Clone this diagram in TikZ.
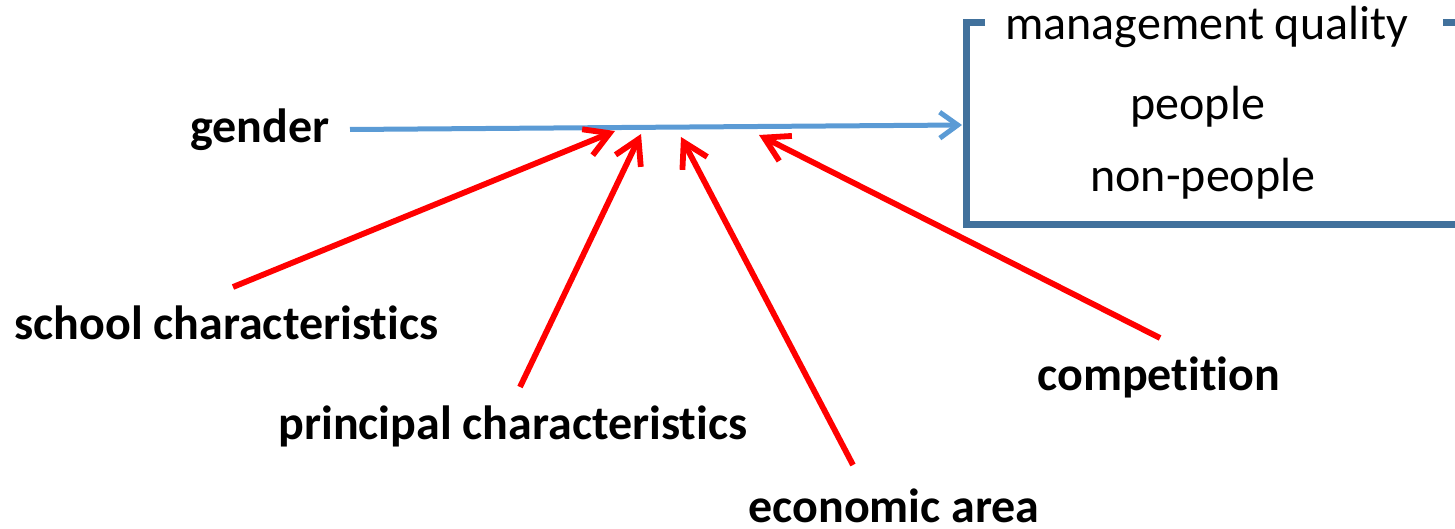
\documentclass[tikz,border=0pt]{standalone}
\usepackage{fontspec}
\setmainfont{Carlito}[Ligatures=NoCommon]
\usetikzlibrary{arrows.meta}
\definecolor{arrowblue}{HTML}{5B9BD5}
\definecolor{bracketblue}{HTML}{41719C}
\definecolor{arrowred}{HTML}{FF0000}
\begin{document}
\begin{tikzpicture}[x=0.5pt,y=-0.5pt,
  lbl/.style={anchor=base west,inner sep=0pt,font=\fontsize{24}{28}\selectfont\bfseries},
  boxtext/.style={anchor=base west,inner sep=0pt,font=\fontsize{24}{28}\selectfont},
  redarrow/.style={draw=arrowred,line width=2.9pt,-{Straight Barb[length=12pt,width=14pt,line width=2.9pt]}},
  bluearrow/.style={draw=arrowblue,line width=2.5pt,-{Straight Barb[length=9pt,width=13pt,line width=2.5pt]}},
  bracket/.style={draw=bracketblue,line width=3.5pt}]
\useasboundingbox (0,0) rectangle (1455,529);
% labels
\node[lbl] (gender) at (190,143) {gender};
\node[lbl] (school) at (14,339) {school characteristics};
\node[lbl] (principal) at (278,439) {principal characteristics};
\node[lbl] (economic) at (748,522) {economic area};
\node[lbl] (competition) at (1037,390) {competition};
\node[boxtext] (mq) at (1005,40) {management quality};
\node[boxtext] (people) at (1130,120) {people};
\node[boxtext] (nonpeople) at (1090,192) {non-people};
% bracket
\coordinate (btl) at (966,22.5);
\coordinate (bbl) at (966,225);
\draw[bracket] (985,22.5) -- (btl) -- (bbl) -- (1455,225);
\draw[bracket] (1443,22.5) -- (1455,22.5);
% connector endpoints
\coordinate (gstart) at (350,129.5);
\coordinate (gend) at (962,125);
\draw[bluearrow] (gstart) -- (gend);
\coordinate (s0) at (233,287);
\coordinate (s1) at (615,131);
\coordinate (p0) at (520,387);
\coordinate (p1) at (641,134);
\coordinate (e0) at (853,465);
\coordinate (e1) at (681,137);
\coordinate (c0) at (1160,338);
\coordinate (c1) at (759,135);
\draw[redarrow] (s0) -- (s1);
\draw[redarrow] (p0) -- (p1);
\draw[redarrow] (e0) -- (e1);
\draw[redarrow] (c0) -- (c1);
\end{tikzpicture}
\end{document}
